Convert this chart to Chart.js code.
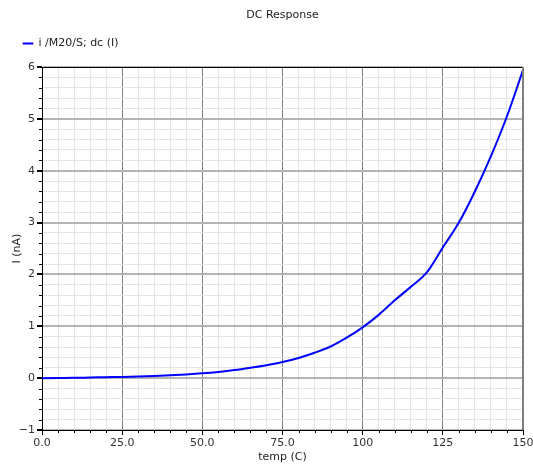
<!DOCTYPE html>
<html>
<head>
<meta charset="utf-8">
<script src="https://cdn.jsdelivr.net/npm/chart.js@4.4.1/dist/chart.umd.min.js"></script>
<style>
html, body { margin: 0; padding: 0; background: #fff; }
</style>
</head>
<body>
<canvas id="chart-dc" width="533" height="464"></canvas>
<script>
// temp sweep (C) and drain current (nA)
var temps = [0, 5, 10, 15, 20, 25, 30, 35, 40, 45, 50, 55, 60, 65, 70, 75,
             80, 85, 90, 95, 100, 105, 110, 115, 120, 125, 130, 135, 140, 145, 150];
var current = [0.0, 0.003, 0.006, 0.012, 0.018, 0.024, 0.032, 0.042, 0.055, 0.072, 0.093,
               0.12, 0.155, 0.20, 0.25, 0.31, 0.39, 0.49, 0.61, 0.78, 0.98,
               1.22, 1.50, 1.76, 2.04, 2.52, 3.0, 3.6, 4.28, 5.05, 5.94];

var xMajor = [0, 25, 50, 75, 100, 125, 150];
var xTickLabels = ['0.0', '25.0', '50.0', '75.0', '100', '125', '150'];
var yMajor = [-1, 0, 1, 2, 3, 4, 5, 6];
var yTickLabels = ['\u22121', '0', '1', '2', '3', '4', '5', '6'];

var FONT = 'DejaVu Sans';

function majorIndex(list, v) {
    for (var i = 0; i < list.length; i++) {
        if (Math.abs(list[i] - v) < 1e-6) return i;
    }
    return -1;
}

// title centred on the plot area, top/right frame, short minor ticks
var framePlugin = {
    id: 'frame',
    beforeLayout: function (chart) {
        // leave a gap below the legend row
        var lg = chart.legend;
        if (lg && !lg._gapPatched) {
            var fit = lg.fit;
            lg.fit = function () {
                fit.apply(this, arguments);
                this.height += 8;
            };
            lg._gapPatched = true;
        }
    },
    afterDraw: function (chart) {
        var a = chart.chartArea;
        var c = chart.ctx;
        c.save();
        c.lineWidth = 1;
        c.strokeStyle = '#000';
        c.beginPath();
        c.moveTo(a.left, a.top + 0.5);
        c.lineTo(a.right, a.top + 0.5);
        c.stroke();
        c.strokeStyle = '#808080';
        c.beginPath();
        c.moveTo(a.right - 0.5, a.top);
        c.lineTo(a.right - 0.5, a.bottom);
        c.stroke();

        c.strokeStyle = '#000';
        chart.scales.x.ticks.forEach(function (t) {
            if (majorIndex(xMajor, t.value) >= 0) return;
            var px = Math.round(chart.scales.x.getPixelForValue(t.value)) + 0.5;
            c.beginPath();
            c.moveTo(px, a.bottom);
            c.lineTo(px, a.bottom + 3);
            c.stroke();
        });
        chart.scales.y.ticks.forEach(function (t) {
            if (majorIndex(yMajor, t.value) >= 0) return;
            var py = Math.round(chart.scales.y.getPixelForValue(t.value)) + 0.5;
            c.beginPath();
            c.moveTo(a.left - 3, py);
            c.lineTo(a.left, py);
            c.stroke();
        });

        c.fillStyle = '#222';
        c.font = '11px "' + FONT + '"';
        c.textAlign = 'center';
        c.textBaseline = 'middle';
        c.fillText('DC Response', (a.left + a.right) / 2, 15);
        c.restore();
    }
};

var ctx = document.getElementById('chart-dc').getContext('2d');
var chart = new Chart(ctx, {
    type: 'line',
    data: {
        datasets: [{
            label: 'i /M20/S; dc (I)',
            data: temps.map(function (t, i) { return { x: t, y: current[i] }; }),
            borderColor: '#0000ff',
            backgroundColor: '#0000ff',
            borderWidth: 2,
            pointRadius: 0,
            cubicInterpolationMode: 'monotone',
            fill: false
        }]
    },
    options: {
        responsive: false,
        animation: false,
        devicePixelRatio: 1,
        layout: { padding: { left: 5, right: 0, top: 20, bottom: 0 } },
        plugins: {
            title: { display: false },
            tooltip: { enabled: false },
            legend: {
                display: true,
                position: 'top',
                align: 'start',
                labels: {
                    boxWidth: 10,
                    boxHeight: 1,
                    padding: 18,
                    color: '#222',
                    font: { family: FONT, size: 11 },
                    generateLabels: function (ch) {
                        return Chart.defaults.plugins.legend.labels.generateLabels(ch).map(function (l) {
                            l.lineWidth = 1;
                            l.strokeStyle = '#0000ff';
                            l.fillStyle = '#0000ff';
                            return l;
                        });
                    }
                }
            }
        },
        scales: {
            x: {
                type: 'linear',
                min: 0,
                max: 150,
                afterFit: function (s) {
                    s.height = 34;
                    s.paddingRight = 10;
                    s.paddingLeft = 0;
                },
                border: { color: '#000', width: 1 },
                grid: {
                    color: function (c) { return majorIndex(xMajor, c.tick.value) >= 0 ? '#808080' : '#e4e4e4'; },
                    tickColor: function (c) { return majorIndex(xMajor, c.tick.value) >= 0 ? '#000' : 'rgba(0,0,0,0)'; },
                    tickLength: 5
                },
                ticks: {
                    stepSize: 5,
                    autoSkip: false,
                    maxRotation: 0,
                    padding: 2,
                    color: '#333',
                    font: { family: FONT, size: 11 },
                    callback: function (v) {
                        var i = majorIndex(xMajor, v);
                        return i >= 0 ? xTickLabels[i] : '';
                    }
                },
                title: {
                    display: true,
                    text: 'temp (C)',
                    color: '#222',
                    font: { family: FONT, size: 11 },
                    padding: { top: 0, bottom: 0 }
                }
            },
            y: {
                type: 'linear',
                min: -1,
                max: 6,
                afterFit: function (s) { s.width = 37; },
                border: { color: '#000', width: 1 },
                grid: {
                    color: function (c) { return majorIndex(yMajor, c.tick.value) >= 0 ? '#b4b4b4' : '#e4e4e4'; },
                    lineWidth: function (c) { return majorIndex(yMajor, c.tick.value) >= 0 ? 2 : 1; },
                    tickColor: function (c) { return majorIndex(yMajor, c.tick.value) >= 0 ? '#000' : 'rgba(0,0,0,0)'; },
                    tickLength: 5
                },
                ticks: {
                    stepSize: 0.2,
                    autoSkip: false,
                    padding: 2,
                    color: '#333',
                    font: { family: FONT, size: 11 },
                    callback: function (v) {
                        var i = majorIndex(yMajor, v);
                        return i >= 0 ? yTickLabels[i] : '';
                    }
                },
                title: {
                    display: true,
                    text: 'I (nA)',
                    color: '#222',
                    font: { family: FONT, size: 11 },
                    padding: { top: 6, bottom: 0 }
                }
            }
        }
    },
    plugins: [framePlugin]
});
</script>
</body>
</html>
